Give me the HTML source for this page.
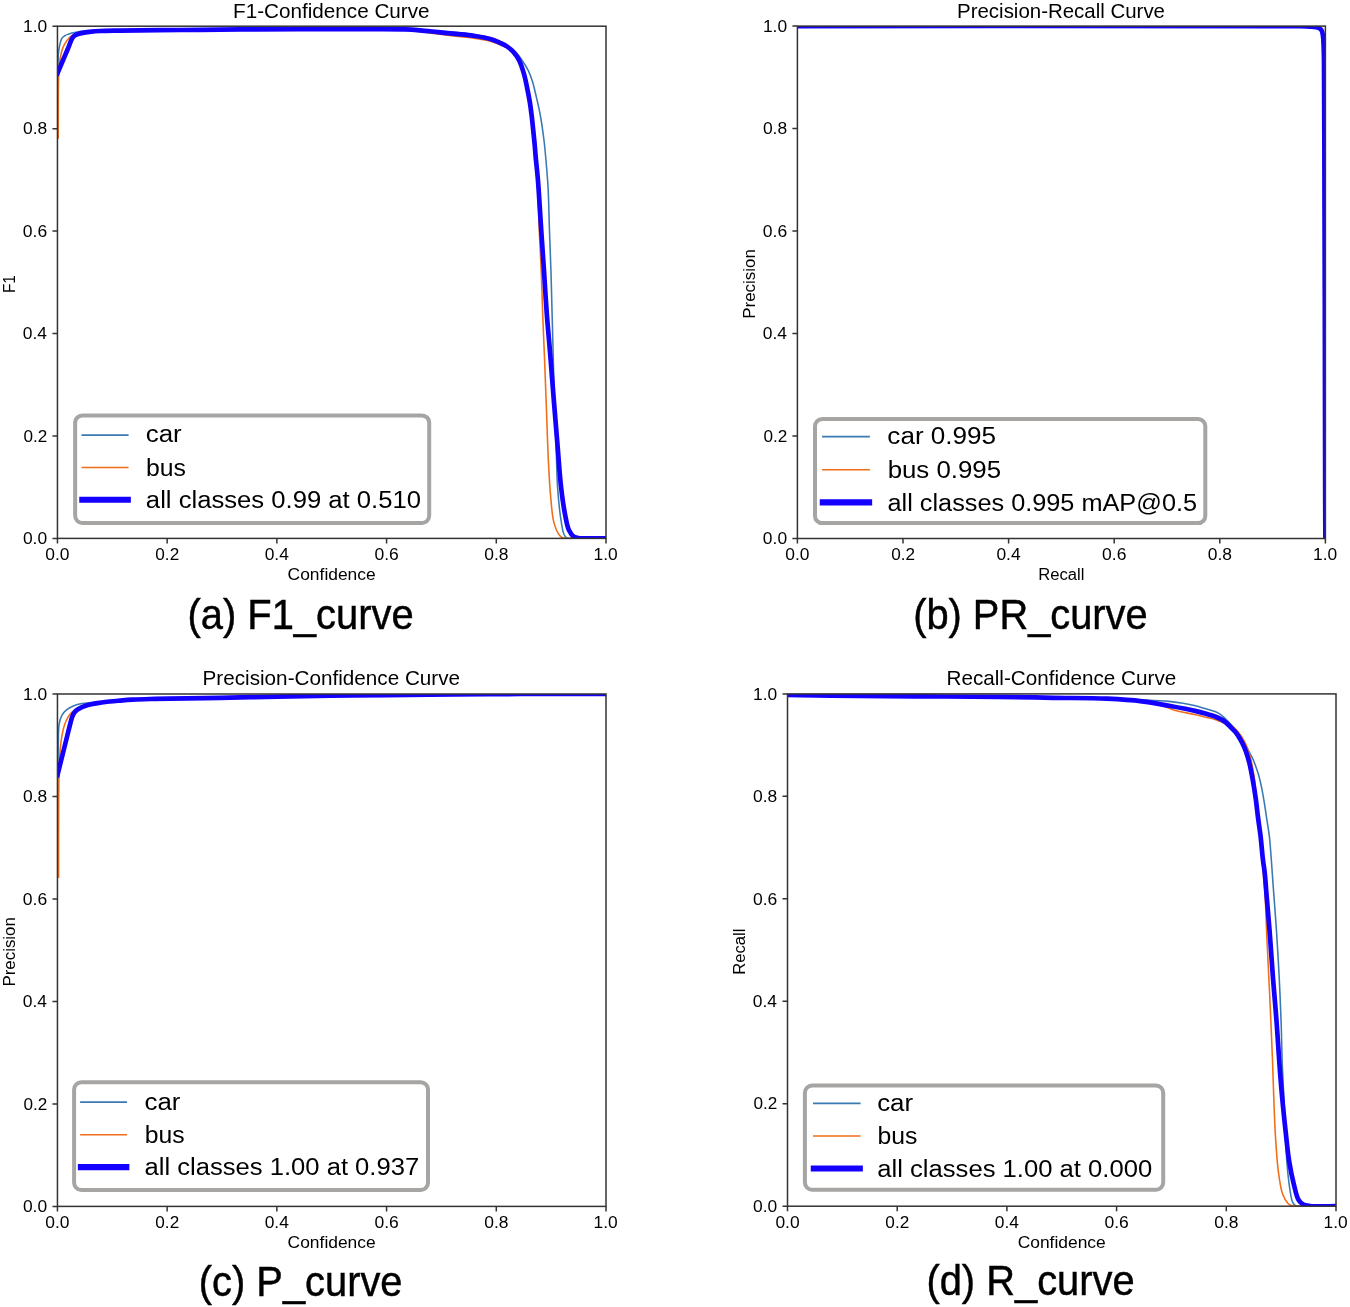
<!DOCTYPE html>
<html><head><meta charset="utf-8"><title>YOLO curves</title>
<style>html,body{margin:0;padding:0;background:#fff;}svg{display:block;will-change:transform;}text{font-family:"Liberation Sans",sans-serif;}</style>
</head><body>
<svg width="1350" height="1307" viewBox="0 0 1350 1307">
<defs><clipPath id="clipa"><rect x="57.45" y="26.2" width="548.55" height="512.2"/></clipPath><clipPath id="clipb"><rect x="797.4" y="26.1" width="528" height="512.4"/></clipPath><clipPath id="clipc"><rect x="57.45" y="694" width="548.55" height="512.4"/></clipPath><clipPath id="clipd"><rect x="787.5" y="693.9" width="548.5" height="512.3"/></clipPath></defs>
<rect width="1350" height="1307" fill="#fff"/>
<g clip-path="url(#clipa)" fill="none" stroke-linejoin="round" stroke-linecap="square"><path d="M58,64 C58.1,61 58.08,57.86 58.3,55 C58.5,52.38 58.66,50.1 59.2,47.5 C59.8,44.59 60.6,40.46 61.9,38.4 C62.76,37.04 63.88,36.31 65,35.6 C66.05,34.94 67.1,34.64 68.4,34.2 C70.08,33.63 72.34,33.04 74.3,32.6 C76.21,32.18 77.51,31.88 80,31.6 C84.63,31.08 91.11,30.87 100,30.6 C117.77,30.06 150.64,29.96 180,29.7 C215.96,29.38 266.86,28.98 300,28.9 C323.43,28.84 341.44,28.96 360,29 C376.08,29.03 394.02,28.87 405,29.1 C411.34,29.23 414.79,29.39 420,29.7 C425.68,30.04 431.87,30.65 437.8,31.1 C443.73,31.55 449.68,31.85 455.6,32.4 C461.51,32.95 467.42,33.44 473.3,34.4 C479.25,35.37 485.7,36.35 491.1,38.2 C495.96,39.86 500.8,42.5 504.4,44.6 C507.06,46.15 508.85,47.65 511,49.2 C513.11,50.72 515.32,51.91 517.2,53.8 C519.26,55.87 520.92,58.65 522.7,61.3 C524.59,64.13 526.61,67.07 528.2,70.3 C529.88,73.71 531.15,77.33 532.4,81.3 C533.82,85.81 534.97,91.32 536.1,96 C537.12,100.25 538.05,104.12 538.9,108.2 C539.75,112.28 540.54,116.61 541.2,120.5 C541.79,124 542.22,127.05 542.7,130.5 C543.22,134.2 543.68,137.36 544.2,142 C544.99,149.07 546.01,160.39 546.7,168.8 C547.31,176.28 547.78,181.76 548.2,190 C548.79,201.49 549.03,217.53 549.5,231.3 C549.97,245.07 550.57,258.82 551,272.6 C551.43,286.39 551.73,300.23 552.1,314 C552.47,327.7 552.84,341.02 553.2,355 C553.58,369.65 553.82,385 554.3,400 C554.78,415 555.54,430.21 556.1,445 C556.64,459.37 556.75,474.78 557.6,487.5 C558.3,497.9 559.19,507.4 560.4,515.8 C561.38,522.62 562.25,530.55 563.9,534.2 C564.72,536 565.58,537.12 566.7,537.8 C567.66,538.38 568.28,538.24 570,538.4 C575.94,538.94 596.67,538.4 610,538.4" stroke="#3a79b3" stroke-width="1.57"/><path d="M58.2,138 C58.23,128.67 58.23,119.85 58.3,110 C58.38,98.98 58.24,84.47 58.7,75 C59.01,68.5 59.16,63.7 60.1,58.6 C60.95,54 62.02,49.4 63.8,45.7 C65.35,42.48 67.55,39.31 69.7,37.4 C71.36,35.93 72.88,35.24 75,34.5 C77.74,33.55 81.32,33.28 85,32.8 C89.48,32.21 93.01,31.77 100,31.4 C116.11,30.54 150.64,30.6 180,30.3 C215.96,29.93 266.86,29.58 300,29.5 C323.43,29.44 341.44,29.52 360,29.6 C376.08,29.67 394.03,29.32 405,29.9 C411.35,30.24 414.79,30.76 420,31.4 C425.69,32.1 431.86,33.18 437.8,34 C443.73,34.82 449.67,35.6 455.6,36.3 C461.5,37 467.41,37.36 473.3,38.2 C479.24,39.05 485.67,39.87 491.1,41.4 C495.93,42.76 500.48,44.7 504.4,46.6 C507.73,48.21 510.77,49.55 513.3,51.8 C515.85,54.07 517.9,57.13 519.6,60.2 C521.35,63.35 522.46,66.94 523.6,70.5 C524.78,74.19 525.57,77.72 526.5,82 C527.66,87.31 528.86,93.83 529.8,100 C530.78,106.48 531.61,114.18 532.2,120 C532.66,124.5 532.8,127.55 533.2,132 C533.7,137.59 534.4,144.01 535,150.9 C535.73,159.21 536.69,170.38 537.2,178.4 C537.6,184.62 537.72,188.4 538,195 C538.41,204.76 538.77,218.81 539.3,231.3 C539.86,244.62 540.73,258.82 541.3,272.6 C541.87,286.39 542.18,300.21 542.7,314 C543.22,327.78 543.84,341.07 544.4,355.3 C545,370.51 545.58,386.06 546.2,402.5 C546.88,420.49 547.48,442.34 548.3,459 C548.95,472.24 549.46,483.43 550.5,494.6 C551.43,504.59 551.92,515.45 554,522.9 C555.45,528.1 557.84,533.22 559.7,535.6 C560.64,536.81 561.45,537.33 562.5,537.8 C563.55,538.27 564.17,538.24 566,538.4 C572.44,538.95 595.33,538.4 610,538.4" stroke="#f06e18" stroke-width="1.57"/><path d="M57.45,73.3 C60.75,65.53 64.6,56.49 67.35,50 C69.32,45.34 70.86,40.4 72.4,38 C73.17,36.8 73.75,36.23 74.6,35.6 C75.45,34.97 76.31,34.63 77.5,34.2 C79.21,33.58 81.76,33.03 84,32.6 C86.35,32.15 88.76,31.86 91.3,31.6 C94.07,31.32 96.5,31.16 100,31 C105.3,30.76 111.55,30.73 120,30.6 C134.64,30.38 160,30.2 180,30 C200,29.8 220,29.55 240,29.4 C260,29.25 280,29.13 300,29.1 C320,29.07 341.44,29.14 360,29.2 C376.08,29.25 394.02,29.05 405,29.4 C411.34,29.6 414.79,29.88 420,30.3 C425.68,30.76 431.87,31.5 437.8,32.1 C443.73,32.7 449.68,33.3 455.6,33.9 C461.51,34.5 467.41,34.82 473.3,35.7 C479.25,36.58 486.24,37.75 491.1,39.2 C494.64,40.25 497.25,41.53 500,42.8 C502.48,43.94 504.69,44.89 506.9,46.4 C509.3,48.04 511.77,50.08 513.8,52.4 C515.92,54.82 517.7,57.47 519.3,60.7 C521.24,64.6 522.78,69.79 524.1,74.4 C525.4,78.95 526.25,83.59 527.2,88.2 C528.15,92.79 529.05,97.37 529.8,102 C530.55,106.64 531.14,111.42 531.7,116 C532.24,120.41 532.62,124.38 533.1,129 C533.65,134.29 534.36,141.08 534.8,146 C535.14,149.77 535.24,152.01 535.6,156 C536.13,161.98 537.24,171.86 537.8,178.4 C538.24,183.49 538.41,186.29 538.8,192 C539.47,201.7 540.43,218.04 541.3,231.3 C542.19,244.9 543.18,258.82 544.1,272.6 C545.02,286.39 545.77,300.21 546.8,314 C547.83,327.78 549.14,341.07 550.3,355.3 C551.54,370.51 552.77,387.18 554,402.5 C555.17,417.04 556.32,430.83 557.5,445 C558.68,459.17 559.62,474.79 561.1,487.5 C562.31,497.91 563.74,508.01 565.3,515.8 C566.42,521.37 567.14,526.29 568.9,530 C570.22,532.78 571.84,535.25 573.8,536.6 C575.46,537.75 577.29,537.87 579.5,538.2 C582.45,538.63 585.94,538.36 590,538.4 C595.6,538.45 603.33,538.4 610,538.4" stroke="#1400ff" stroke-width="4.7"/></g>
<rect x="57.45" y="26.2" width="548.55" height="512.2" fill="none" stroke="#333" stroke-width="1.5"/>
<g clip-path="url(#clipb)" fill="none" stroke-linejoin="round" stroke-linecap="square"><path d="M797.4,26.1 C964.93,26.1 1255.16,25.17 1300,26.1 C1306.93,26.24 1308.7,26.2 1312,26.6 C1314.36,26.88 1316.34,27.04 1318,27.8 C1319.41,28.44 1320.65,29.27 1321.5,30.5 C1322.47,31.9 1322.81,33.92 1323.2,36 C1323.68,38.61 1323.64,41.62 1323.8,45 C1324,49.36 1324.09,52.47 1324.2,60 C1324.54,83.02 1324.47,157.25 1324.6,200 C1324.71,236.13 1324.8,260.95 1324.9,300 C1325.04,355.23 1325.21,458.8 1325.3,500 C1325.34,518.43 1325.37,526.67 1325.4,540" stroke="#3a79b3" stroke-width="1.57"/><path d="M797.4,26.1 C964.93,26.1 1255.16,25.17 1300,26.1 C1306.93,26.24 1308.7,26.2 1312,26.6 C1314.36,26.88 1316.34,27.04 1318,27.8 C1319.41,28.44 1320.65,29.27 1321.5,30.5 C1322.47,31.9 1322.81,33.92 1323.2,36 C1323.68,38.61 1323.64,41.62 1323.8,45 C1324,49.36 1324.09,52.47 1324.2,60 C1324.54,83.02 1324.47,157.25 1324.6,200 C1324.71,236.13 1324.8,260.95 1324.9,300 C1325.04,355.23 1325.21,458.8 1325.3,500 C1325.34,518.43 1325.37,526.67 1325.4,540" stroke="#f06e18" stroke-width="1.57"/><path d="M795,26.1 C963.33,26.1 1255.04,24.98 1300,26.1 C1306.94,26.27 1308.69,26.37 1312,26.7 C1314.35,26.93 1316.34,26.91 1318,27.6 C1319.41,28.19 1320.67,28.97 1321.5,30.2 C1322.47,31.64 1322.65,33.84 1323,36 C1323.43,38.65 1323.44,41.62 1323.6,45 C1323.8,49.36 1323.89,52.47 1324,60 C1324.35,83.02 1324.36,157.25 1324.5,200 C1324.62,236.13 1324.7,260.95 1324.8,300 C1324.94,355.23 1325.06,458.8 1325.2,500 C1325.26,518.43 1325.33,526.67 1325.4,540" stroke="#1400ff" stroke-width="4.7"/></g>
<rect x="797.4" y="26.1" width="528" height="512.4" fill="none" stroke="#333" stroke-width="1.5"/>
<g clip-path="url(#clipc)" fill="none" stroke-linejoin="round" stroke-linecap="square"><path d="M58,770 C58.1,761.67 58.08,753.01 58.3,745 C58.5,737.59 58.22,729.02 59.2,723.6 C59.82,720.14 60.58,717.68 61.9,715.3 C63.09,713.15 64.61,711.36 66.5,709.8 C68.55,708.11 71.31,706.73 73.9,705.7 C76.48,704.67 79.19,704.11 82,703.6 C84.97,703.06 87.67,702.93 91.3,702.6 C96.39,702.13 103.23,701.69 109.7,701.2 C116.92,700.66 124.06,699.94 132.6,699.5 C143.41,698.94 156.16,698.7 169.4,698.4 C184.93,698.05 202.63,697.92 220,697.6 C238.43,697.26 258.35,696.75 277,696.4 C294.99,696.06 312.09,695.75 330,695.5 C348.41,695.25 368.46,695.07 386,694.9 C401.55,694.75 414.39,694.63 430,694.5 C447.77,694.36 470.58,694.18 487,694.1 C499.49,694.04 506.3,694.02 520,694 C542.63,693.97 580,694 610,694" stroke="#3a79b3" stroke-width="1.57"/><path d="M58.6,877.2 C58.6,864.8 58.58,852.62 58.6,840 C58.62,826.91 58.63,811.05 58.7,800 C58.75,792.19 58.77,786.67 58.9,780 C59.03,773.33 59.13,766.49 59.5,760 C59.85,753.84 60.23,747.69 61,742 C61.71,736.81 62.68,731.22 63.8,727.2 C64.6,724.33 65.49,722.11 66.5,720 C67.35,718.22 68.21,716.73 69.3,715.3 C70.38,713.9 71.48,712.57 73,711.5 C74.75,710.27 76.91,709.59 79.4,708.6 C82.73,707.28 86.85,705.61 91.3,704.5 C96.72,703.15 103.22,702.36 109.7,701.6 C116.9,700.75 124.06,700.26 132.6,699.8 C143.41,699.21 156.16,699 169.4,698.7 C184.93,698.35 202.63,698.22 220,697.9 C238.43,697.56 258.35,697.05 277,696.7 C294.99,696.36 312.09,696.05 330,695.8 C348.41,695.55 368.46,695.39 386,695.2 C401.55,695.03 414.39,694.86 430,694.7 C447.77,694.52 470.58,694.32 487,694.2 C499.49,694.11 506.3,694.04 520,694 C542.63,693.93 580,694 610,694" stroke="#f06e18" stroke-width="1.57"/><path d="M57.45,775.2 C60.37,763.47 63.83,749.52 66.2,740 C67.82,733.5 69.17,727.88 70.3,723.6 C71.03,720.84 71.44,718.76 72.2,716.8 C72.82,715.2 73.44,713.79 74.3,712.6 C75.07,711.53 75.99,710.69 77,709.9 C78.05,709.08 79.23,708.43 80.5,707.8 C81.88,707.12 83.36,706.55 85,706 C86.91,705.36 89.02,704.8 91.3,704.3 C93.95,703.71 97.02,703.26 100,702.8 C103.14,702.32 106.41,701.86 109.7,701.5 C113.08,701.13 116.39,700.89 120,700.6 C123.99,700.28 128.06,699.95 132.6,699.7 C137.93,699.4 144.04,699.18 150,699 C156.29,698.81 161.41,698.75 169.4,698.6 C182.3,698.37 202.63,698.12 220,697.8 C238.43,697.46 258.35,696.95 277,696.6 C294.99,696.26 312.09,695.95 330,695.7 C348.41,695.45 368.46,695.29 386,695.1 C401.55,694.93 414.39,694.74 430,694.6 C447.77,694.44 470.58,694.31 487,694.2 C499.49,694.12 506.3,694.04 520,694 C542.63,693.93 580,694 610,694" stroke="#1400ff" stroke-width="4.7"/></g>
<rect x="57.45" y="694" width="548.55" height="512.4" fill="none" stroke="#333" stroke-width="1.5"/>
<g clip-path="url(#clipd)" fill="none" stroke-linejoin="round" stroke-linecap="square"><path d="M787.5,694.2 C858.33,694.97 941.2,695.69 1000,696.5 C1041.73,697.08 1081.05,697.53 1107,698.3 C1121.85,698.74 1132.26,699.35 1142,699.8 C1148.99,700.12 1155.05,700.38 1160,700.7 C1163.49,700.92 1165.6,701.06 1168.9,701.4 C1173.07,701.83 1178.45,702.44 1183,703.2 C1187.33,703.92 1191.73,704.83 1195.6,705.8 C1198.98,706.65 1201.82,707.65 1205,708.6 C1208.28,709.58 1212.22,710.5 1215,711.6 C1217.12,712.44 1218.68,713.13 1220.4,714.3 C1222.27,715.58 1223.96,717.43 1225.7,719.1 C1227.49,720.82 1229.25,722.63 1231,724.5 C1232.81,726.43 1234.75,728.36 1236.4,730.5 C1238.08,732.68 1239.55,735.14 1241,737.5 C1242.42,739.81 1243.71,742.21 1245,744.5 C1246.24,746.7 1247.38,748.78 1248.6,751 C1249.88,753.34 1251.32,755.68 1252.5,758.2 C1253.73,760.83 1254.77,763.68 1255.8,766.5 C1256.84,769.38 1257.76,771.94 1258.7,775.3 C1259.92,779.67 1261.18,785.49 1262.2,790.6 C1263.21,795.69 1263.98,800.8 1264.8,805.9 C1265.62,811 1266.33,816.1 1267.1,821.2 C1267.87,826.3 1268.75,830.87 1269.4,836.5 C1270.2,843.38 1270.7,851.63 1271.3,859.5 C1271.93,867.78 1272.4,875.24 1273.1,885 C1274.05,898.15 1275.47,915.71 1276.5,931.3 C1277.55,947.2 1278.5,963.43 1279.3,979.5 C1280.1,995.56 1280.8,1012.99 1281.3,1027.7 C1281.72,1040.1 1281.74,1049.77 1282.2,1062 C1282.73,1076.08 1283.66,1091.65 1284.4,1107.4 C1285.2,1124.48 1285.68,1145.97 1286.8,1160.8 C1287.6,1171.43 1288.5,1180.5 1289.7,1188.1 C1290.57,1193.63 1291.18,1199.34 1292.7,1202.3 C1293.54,1203.94 1294.47,1204.95 1295.7,1205.6 C1296.91,1206.24 1297.83,1206.05 1300,1206.2 C1306.58,1206.66 1326.67,1206.2 1340,1206.2" stroke="#3a79b3" stroke-width="1.57"/><path d="M787.5,694.6 C858.33,695.43 941.2,696.26 1000,697.1 C1041.73,697.7 1081.06,697.61 1107,698.9 C1121.86,699.64 1132.28,700.56 1142,701.8 C1149.01,702.69 1154.42,703.39 1160,704.9 C1165.08,706.27 1168.92,708.67 1174.2,710.2 C1180.54,712.04 1189.59,713.33 1195.6,714.7 C1200,715.7 1203.54,716.62 1207,717.5 C1209.91,718.24 1212.61,718.85 1215,719.6 C1216.99,720.23 1218.61,720.93 1220.4,721.6 C1222.18,722.26 1223.75,722.74 1225.7,723.6 C1228.25,724.73 1231.95,726.24 1234.3,728 C1236.32,729.52 1237.72,731.31 1239.2,733.2 C1240.72,735.14 1242.03,737.27 1243.3,739.5 C1244.64,741.85 1245.88,744.21 1247,747 C1248.32,750.27 1249.51,754.23 1250.5,758 C1251.52,761.89 1252.27,765.99 1253,770 C1253.73,773.99 1254.35,777.7 1254.9,782 C1255.54,786.94 1255.93,792.41 1256.5,798 C1257.13,804.16 1257.81,810.96 1258.5,817.4 C1259.18,823.79 1259.97,829.83 1260.6,836.5 C1261.29,843.81 1261.85,852.05 1262.4,859.5 C1262.92,866.53 1263.33,874.38 1263.8,880 C1264.13,883.93 1264.47,885.41 1264.8,890 C1265.52,900.05 1266.13,921.6 1266.9,938.2 C1267.72,955.95 1268.71,974.06 1269.6,993.3 C1270.58,1014.47 1271.78,1041.23 1272.5,1060 C1273.03,1073.71 1273.23,1083.28 1273.7,1095.6 C1274.21,1108.9 1274.65,1123.81 1275.5,1137.1 C1276.29,1149.43 1277.08,1162.38 1278.5,1172.7 C1279.61,1180.74 1280.55,1188.44 1282.6,1194 C1284.06,1197.94 1286.13,1201.59 1288,1203.5 C1289.14,1204.67 1290.21,1205.15 1291.5,1205.6 C1292.86,1206.08 1293.72,1206.05 1296,1206.2 C1303.1,1206.67 1325.33,1206.2 1340,1206.2" stroke="#f06e18" stroke-width="1.57"/><path d="M787.5,694.9 C802,695.13 814.09,695.39 831,695.6 C854.63,695.89 887.75,696.08 916,696.3 C944.08,696.52 975.21,696.6 1000,696.9 C1019.69,697.14 1035.25,697.5 1053,697.8 C1070.92,698.1 1090.95,697.97 1107,698.7 C1119.94,699.29 1131.12,699.99 1142,701.3 C1151.61,702.46 1160.01,704.17 1169,705.8 C1178.01,707.44 1189.01,709.49 1196,711.1 C1200.5,712.13 1203.63,713.03 1207,714 C1209.89,714.83 1212.62,715.6 1215,716.5 C1217,717.25 1218.65,717.94 1220.4,718.9 C1222.22,719.89 1223.99,721.02 1225.7,722.4 C1227.57,723.91 1229.32,725.9 1231.1,727.7 C1232.89,729.5 1234.82,731.18 1236.4,733.2 C1238.03,735.27 1239.38,737.64 1240.7,740 C1242.05,742.4 1243.32,744.97 1244.4,747.5 C1245.45,749.97 1246.26,752.37 1247.1,755 C1248.01,757.85 1248.79,760.6 1249.6,764 C1250.64,768.37 1251.64,773.76 1252.6,779.1 C1253.68,785.11 1254.8,791.9 1255.7,798.3 C1256.6,804.67 1257.18,811.04 1258,817.4 C1258.82,823.77 1259.81,829.83 1260.6,836.5 C1261.46,843.8 1262.11,852.79 1262.9,859.5 C1263.52,864.75 1264.26,868.5 1264.8,873.5 C1265.42,879.23 1265.7,884.69 1266.3,892 C1267.18,902.66 1268.52,917.53 1269.6,931.3 C1270.79,946.54 1271.9,964.05 1273.1,979.5 C1274.21,993.83 1275.46,1007.12 1276.5,1020.9 C1277.53,1034.62 1278.33,1048.99 1279.3,1062 C1280.17,1073.77 1280.97,1084.24 1282,1095.6 C1283.06,1107.3 1284.36,1119.89 1285.6,1131.2 C1286.73,1141.53 1287.61,1151.5 1289.1,1160.8 C1290.44,1169.19 1292.12,1177.56 1293.9,1184.6 C1295.35,1190.33 1296.47,1196.54 1298.6,1200 C1299.97,1202.22 1301.51,1203.6 1303.4,1204.6 C1305.3,1205.61 1306.98,1205.67 1310,1206 C1316.36,1206.69 1330,1206.13 1340,1206.2" stroke="#1400ff" stroke-width="4.7"/></g>
<rect x="787.5" y="693.9" width="548.5" height="512.3" fill="none" stroke="#333" stroke-width="1.5"/>
<rect x="75.15" y="415.4" width="354.05" height="107.5" rx="7.2" ry="7.2" fill="#fff" stroke="#a7a5a3" stroke-width="4"/>
<path d="M82.3,435.1H127.8" stroke="#3a79b3" stroke-width="1.57" stroke-linecap="square"/>
<path d="M82.3,467.5H127.8" stroke="#f06e18" stroke-width="1.57" stroke-linecap="square"/>
<path d="M82.3,499.8H127.8" stroke="#1400ff" stroke-width="6.1" stroke-linecap="square"/>
<text x="145.76" y="442.3" font-size="24.06" textLength="35.99" lengthAdjust="spacingAndGlyphs" fill="#000">car</text>
<text x="146.08" y="475.5" font-size="24.06" textLength="39.94" lengthAdjust="spacingAndGlyphs" fill="#000">bus</text>
<text x="145.89" y="508.3" font-size="24.06" textLength="275.09" lengthAdjust="spacingAndGlyphs" fill="#000">all classes 0.99 at 0.510</text>
<rect x="815" y="419.1" width="390.3" height="104" rx="7.2" ry="7.2" fill="#fff" stroke="#a7a5a3" stroke-width="4"/>
<path d="M822.8,436.6H869.1" stroke="#3a79b3" stroke-width="1.57" stroke-linecap="square"/>
<path d="M822.8,469.7H869.1" stroke="#f06e18" stroke-width="1.57" stroke-linecap="square"/>
<path d="M822.8,502.4H869.1" stroke="#1400ff" stroke-width="6.1" stroke-linecap="square"/>
<text x="887.38" y="444.3" font-size="24.49" textLength="108.74" lengthAdjust="spacingAndGlyphs" fill="#000">car 0.995</text>
<text x="887.65" y="477.8" font-size="24.49" textLength="113.45" lengthAdjust="spacingAndGlyphs" fill="#000">bus 0.995</text>
<text x="887.52" y="510.6" font-size="24.49" textLength="309.54" lengthAdjust="spacingAndGlyphs" fill="#000">all classes 0.995 mAP@0.5</text>
<rect x="74.1" y="1082.2" width="353.9" height="107.8" rx="7.2" ry="7.2" fill="#fff" stroke="#a7a5a3" stroke-width="4"/>
<path d="M80.9,1102.1H126.3" stroke="#3a79b3" stroke-width="1.57" stroke-linecap="square"/>
<path d="M80.9,1134.8H126.3" stroke="#f06e18" stroke-width="1.57" stroke-linecap="square"/>
<path d="M80.9,1167.1H126.3" stroke="#1400ff" stroke-width="6.1" stroke-linecap="square"/>
<text x="144.46" y="1109.5" font-size="24.03" textLength="35.94" lengthAdjust="spacingAndGlyphs" fill="#000">car</text>
<text x="144.78" y="1142.8" font-size="24.03" textLength="39.89" lengthAdjust="spacingAndGlyphs" fill="#000">bus</text>
<text x="144.59" y="1175.4" font-size="24.03" textLength="274.58" lengthAdjust="spacingAndGlyphs" fill="#000">all classes 1.00 at 0.937</text>
<rect x="804.9" y="1085.5" width="358.3" height="104.2" rx="7.2" ry="7.2" fill="#fff" stroke="#a7a5a3" stroke-width="4"/>
<path d="M813.8,1103.4H859.8" stroke="#3a79b3" stroke-width="1.57" stroke-linecap="square"/>
<path d="M813.8,1136H859.8" stroke="#f06e18" stroke-width="1.57" stroke-linecap="square"/>
<path d="M813.8,1168.5H859.8" stroke="#1400ff" stroke-width="6.1" stroke-linecap="square"/>
<text x="877.16" y="1110.8" font-size="24.05" textLength="35.97" lengthAdjust="spacingAndGlyphs" fill="#000">car</text>
<text x="877.48" y="1144" font-size="24.05" textLength="39.92" lengthAdjust="spacingAndGlyphs" fill="#000">bus</text>
<text x="877.29" y="1176.8" font-size="24.05" textLength="274.97" lengthAdjust="spacingAndGlyphs" fill="#000">all classes 1.00 at 0.000</text>
<text x="233.1" y="17.6" font-size="19.93" textLength="196.48" lengthAdjust="spacingAndGlyphs" fill="#000">F1-Confidence Curve</text>
<text x="287.64" y="580.1" font-size="16.61" textLength="88.04" lengthAdjust="spacingAndGlyphs" fill="#000">Confidence</text>
<g transform="translate(14.95,283.8) rotate(-90)"><text x="-9.27" y="0" font-size="16.61" textLength="18.02" lengthAdjust="spacingAndGlyphs" fill="#000">F1</text></g>
<text x="45.35" y="559.7" font-size="16.61" textLength="24.21" lengthAdjust="spacingAndGlyphs" fill="#000">0.0</text>
<text x="22.92" y="544.1" font-size="16.61" textLength="24.21" lengthAdjust="spacingAndGlyphs" fill="#000">0.0</text>
<text x="155.33" y="559.7" font-size="16.61" textLength="23.84" lengthAdjust="spacingAndGlyphs" fill="#000">0.2</text>
<text x="23.47" y="441.66" font-size="16.61" textLength="23.84" lengthAdjust="spacingAndGlyphs" fill="#000">0.2</text>
<text x="264.69" y="559.7" font-size="16.61" textLength="24.19" lengthAdjust="spacingAndGlyphs" fill="#000">0.4</text>
<text x="22.77" y="339.22" font-size="16.61" textLength="24.19" lengthAdjust="spacingAndGlyphs" fill="#000">0.4</text>
<text x="374.45" y="559.7" font-size="16.61" textLength="24.35" lengthAdjust="spacingAndGlyphs" fill="#000">0.6</text>
<text x="22.87" y="236.78" font-size="16.61" textLength="24.35" lengthAdjust="spacingAndGlyphs" fill="#000">0.6</text>
<text x="484.2" y="559.7" font-size="16.61" textLength="24.25" lengthAdjust="spacingAndGlyphs" fill="#000">0.8</text>
<text x="22.95" y="134.34" font-size="16.61" textLength="24.25" lengthAdjust="spacingAndGlyphs" fill="#000">0.8</text>
<text x="593.6" y="559.7" font-size="16.61" textLength="24.16" lengthAdjust="spacingAndGlyphs" fill="#000">1.0</text>
<text x="22.97" y="31.9" font-size="16.61" textLength="24.16" lengthAdjust="spacingAndGlyphs" fill="#000">1.0</text>
<path d="M57.45,538.4v5.0M57.45,538.4h-5.0M167.16,538.4v5.0M57.45,435.96h-5.0M276.87,538.4v5.0M57.45,333.52h-5.0M386.58,538.4v5.0M57.45,231.08h-5.0M496.29,538.4v5.0M57.45,128.64h-5.0M606,538.4v5.0M57.45,26.2h-5.0" stroke="#333" stroke-width="1.5" fill="none"/>
<text x="957.05" y="17.5" font-size="19.93" textLength="207.93" lengthAdjust="spacingAndGlyphs" fill="#000">Precision-Recall Curve</text>
<text x="1038.16" y="580.2" font-size="16.61" textLength="46.23" lengthAdjust="spacingAndGlyphs" fill="#000">Recall</text>
<g transform="translate(754.9,283.8) rotate(-90)"><text x="-34.91" y="0" font-size="16.61" textLength="69.53" lengthAdjust="spacingAndGlyphs" fill="#000">Precision</text></g>
<text x="785.3" y="559.8" font-size="16.61" textLength="24.21" lengthAdjust="spacingAndGlyphs" fill="#000">0.0</text>
<text x="762.87" y="544.2" font-size="16.61" textLength="24.21" lengthAdjust="spacingAndGlyphs" fill="#000">0.0</text>
<text x="891.17" y="559.8" font-size="16.61" textLength="23.84" lengthAdjust="spacingAndGlyphs" fill="#000">0.2</text>
<text x="763.42" y="441.72" font-size="16.61" textLength="23.84" lengthAdjust="spacingAndGlyphs" fill="#000">0.2</text>
<text x="996.42" y="559.8" font-size="16.61" textLength="24.19" lengthAdjust="spacingAndGlyphs" fill="#000">0.4</text>
<text x="762.72" y="339.24" font-size="16.61" textLength="24.19" lengthAdjust="spacingAndGlyphs" fill="#000">0.4</text>
<text x="1102.07" y="559.8" font-size="16.61" textLength="24.35" lengthAdjust="spacingAndGlyphs" fill="#000">0.6</text>
<text x="762.82" y="236.76" font-size="16.61" textLength="24.35" lengthAdjust="spacingAndGlyphs" fill="#000">0.6</text>
<text x="1207.71" y="559.8" font-size="16.61" textLength="24.25" lengthAdjust="spacingAndGlyphs" fill="#000">0.8</text>
<text x="762.9" y="134.28" font-size="16.61" textLength="24.25" lengthAdjust="spacingAndGlyphs" fill="#000">0.8</text>
<text x="1313" y="559.8" font-size="16.61" textLength="24.16" lengthAdjust="spacingAndGlyphs" fill="#000">1.0</text>
<text x="762.92" y="31.8" font-size="16.61" textLength="24.16" lengthAdjust="spacingAndGlyphs" fill="#000">1.0</text>
<path d="M797.4,538.5v5.0M797.4,538.5h-5.0M903,538.5v5.0M797.4,436.02h-5.0M1008.6,538.5v5.0M797.4,333.54h-5.0M1114.2,538.5v5.0M797.4,231.06h-5.0M1219.8,538.5v5.0M797.4,128.58h-5.0M1325.4,538.5v5.0M797.4,26.1h-5.0" stroke="#333" stroke-width="1.5" fill="none"/>
<text x="202.55" y="685.4" font-size="19.93" textLength="257.58" lengthAdjust="spacingAndGlyphs" fill="#000">Precision-Confidence Curve</text>
<text x="287.64" y="1248.1" font-size="16.61" textLength="88.04" lengthAdjust="spacingAndGlyphs" fill="#000">Confidence</text>
<g transform="translate(14.95,951.7) rotate(-90)"><text x="-34.91" y="0" font-size="16.61" textLength="69.53" lengthAdjust="spacingAndGlyphs" fill="#000">Precision</text></g>
<text x="45.35" y="1227.7" font-size="16.61" textLength="24.21" lengthAdjust="spacingAndGlyphs" fill="#000">0.0</text>
<text x="22.92" y="1212.1" font-size="16.61" textLength="24.21" lengthAdjust="spacingAndGlyphs" fill="#000">0.0</text>
<text x="155.33" y="1227.7" font-size="16.61" textLength="23.84" lengthAdjust="spacingAndGlyphs" fill="#000">0.2</text>
<text x="23.47" y="1109.62" font-size="16.61" textLength="23.84" lengthAdjust="spacingAndGlyphs" fill="#000">0.2</text>
<text x="264.69" y="1227.7" font-size="16.61" textLength="24.19" lengthAdjust="spacingAndGlyphs" fill="#000">0.4</text>
<text x="22.77" y="1007.14" font-size="16.61" textLength="24.19" lengthAdjust="spacingAndGlyphs" fill="#000">0.4</text>
<text x="374.45" y="1227.7" font-size="16.61" textLength="24.35" lengthAdjust="spacingAndGlyphs" fill="#000">0.6</text>
<text x="22.87" y="904.66" font-size="16.61" textLength="24.35" lengthAdjust="spacingAndGlyphs" fill="#000">0.6</text>
<text x="484.2" y="1227.7" font-size="16.61" textLength="24.25" lengthAdjust="spacingAndGlyphs" fill="#000">0.8</text>
<text x="22.95" y="802.18" font-size="16.61" textLength="24.25" lengthAdjust="spacingAndGlyphs" fill="#000">0.8</text>
<text x="593.6" y="1227.7" font-size="16.61" textLength="24.16" lengthAdjust="spacingAndGlyphs" fill="#000">1.0</text>
<text x="22.97" y="699.7" font-size="16.61" textLength="24.16" lengthAdjust="spacingAndGlyphs" fill="#000">1.0</text>
<path d="M57.45,1206.4v5.0M57.45,1206.4h-5.0M167.16,1206.4v5.0M57.45,1103.92h-5.0M276.87,1206.4v5.0M57.45,1001.44h-5.0M386.58,1206.4v5.0M57.45,898.96h-5.0M496.29,1206.4v5.0M57.45,796.48h-5.0M606,1206.4v5.0M57.45,694h-5.0" stroke="#333" stroke-width="1.5" fill="none"/>
<text x="946.47" y="685.3" font-size="19.93" textLength="229.79" lengthAdjust="spacingAndGlyphs" fill="#000">Recall-Confidence Curve</text>
<text x="1017.67" y="1247.9" font-size="16.61" textLength="88.04" lengthAdjust="spacingAndGlyphs" fill="#000">Confidence</text>
<g transform="translate(745,951.55) rotate(-90)"><text x="-23.24" y="0" font-size="16.61" textLength="46.23" lengthAdjust="spacingAndGlyphs" fill="#000">Recall</text></g>
<text x="775.4" y="1227.5" font-size="16.61" textLength="24.21" lengthAdjust="spacingAndGlyphs" fill="#000">0.0</text>
<text x="752.97" y="1211.9" font-size="16.61" textLength="24.21" lengthAdjust="spacingAndGlyphs" fill="#000">0.0</text>
<text x="885.37" y="1227.5" font-size="16.61" textLength="23.84" lengthAdjust="spacingAndGlyphs" fill="#000">0.2</text>
<text x="753.52" y="1109.44" font-size="16.61" textLength="23.84" lengthAdjust="spacingAndGlyphs" fill="#000">0.2</text>
<text x="994.72" y="1227.5" font-size="16.61" textLength="24.19" lengthAdjust="spacingAndGlyphs" fill="#000">0.4</text>
<text x="752.82" y="1006.98" font-size="16.61" textLength="24.19" lengthAdjust="spacingAndGlyphs" fill="#000">0.4</text>
<text x="1104.47" y="1227.5" font-size="16.61" textLength="24.35" lengthAdjust="spacingAndGlyphs" fill="#000">0.6</text>
<text x="752.92" y="904.52" font-size="16.61" textLength="24.35" lengthAdjust="spacingAndGlyphs" fill="#000">0.6</text>
<text x="1214.21" y="1227.5" font-size="16.61" textLength="24.25" lengthAdjust="spacingAndGlyphs" fill="#000">0.8</text>
<text x="753" y="802.06" font-size="16.61" textLength="24.25" lengthAdjust="spacingAndGlyphs" fill="#000">0.8</text>
<text x="1323.6" y="1227.5" font-size="16.61" textLength="24.16" lengthAdjust="spacingAndGlyphs" fill="#000">1.0</text>
<text x="753.02" y="699.6" font-size="16.61" textLength="24.16" lengthAdjust="spacingAndGlyphs" fill="#000">1.0</text>
<path d="M787.5,1206.2v5.0M787.5,1206.2h-5.0M897.2,1206.2v5.0M787.5,1103.74h-5.0M1006.9,1206.2v5.0M787.5,1001.28h-5.0M1116.6,1206.2v5.0M787.5,898.82h-5.0M1226.3,1206.2v5.0M787.5,796.36h-5.0M1336,1206.2v5.0M787.5,693.9h-5.0" stroke="#333" stroke-width="1.5" fill="none"/>
<text x="187.53" y="629.1" font-size="41.7" textLength="226.05" lengthAdjust="spacingAndGlyphs" fill="#000" stroke="#000" stroke-width="0.45">(a) F1_curve</text>
<text x="913.13" y="628.9" font-size="41.7" textLength="234.51" lengthAdjust="spacingAndGlyphs" fill="#000" stroke="#000" stroke-width="0.45">(b) PR_curve</text>
<text x="198.83" y="1295.6" font-size="41.7" textLength="203.64" lengthAdjust="spacingAndGlyphs" fill="#000" stroke="#000" stroke-width="0.45">(c) P_curve</text>
<text x="926.43" y="1295.3" font-size="41.7" textLength="208.21" lengthAdjust="spacingAndGlyphs" fill="#000" stroke="#000" stroke-width="0.45">(d) R_curve</text>
</svg>
</body></html>
